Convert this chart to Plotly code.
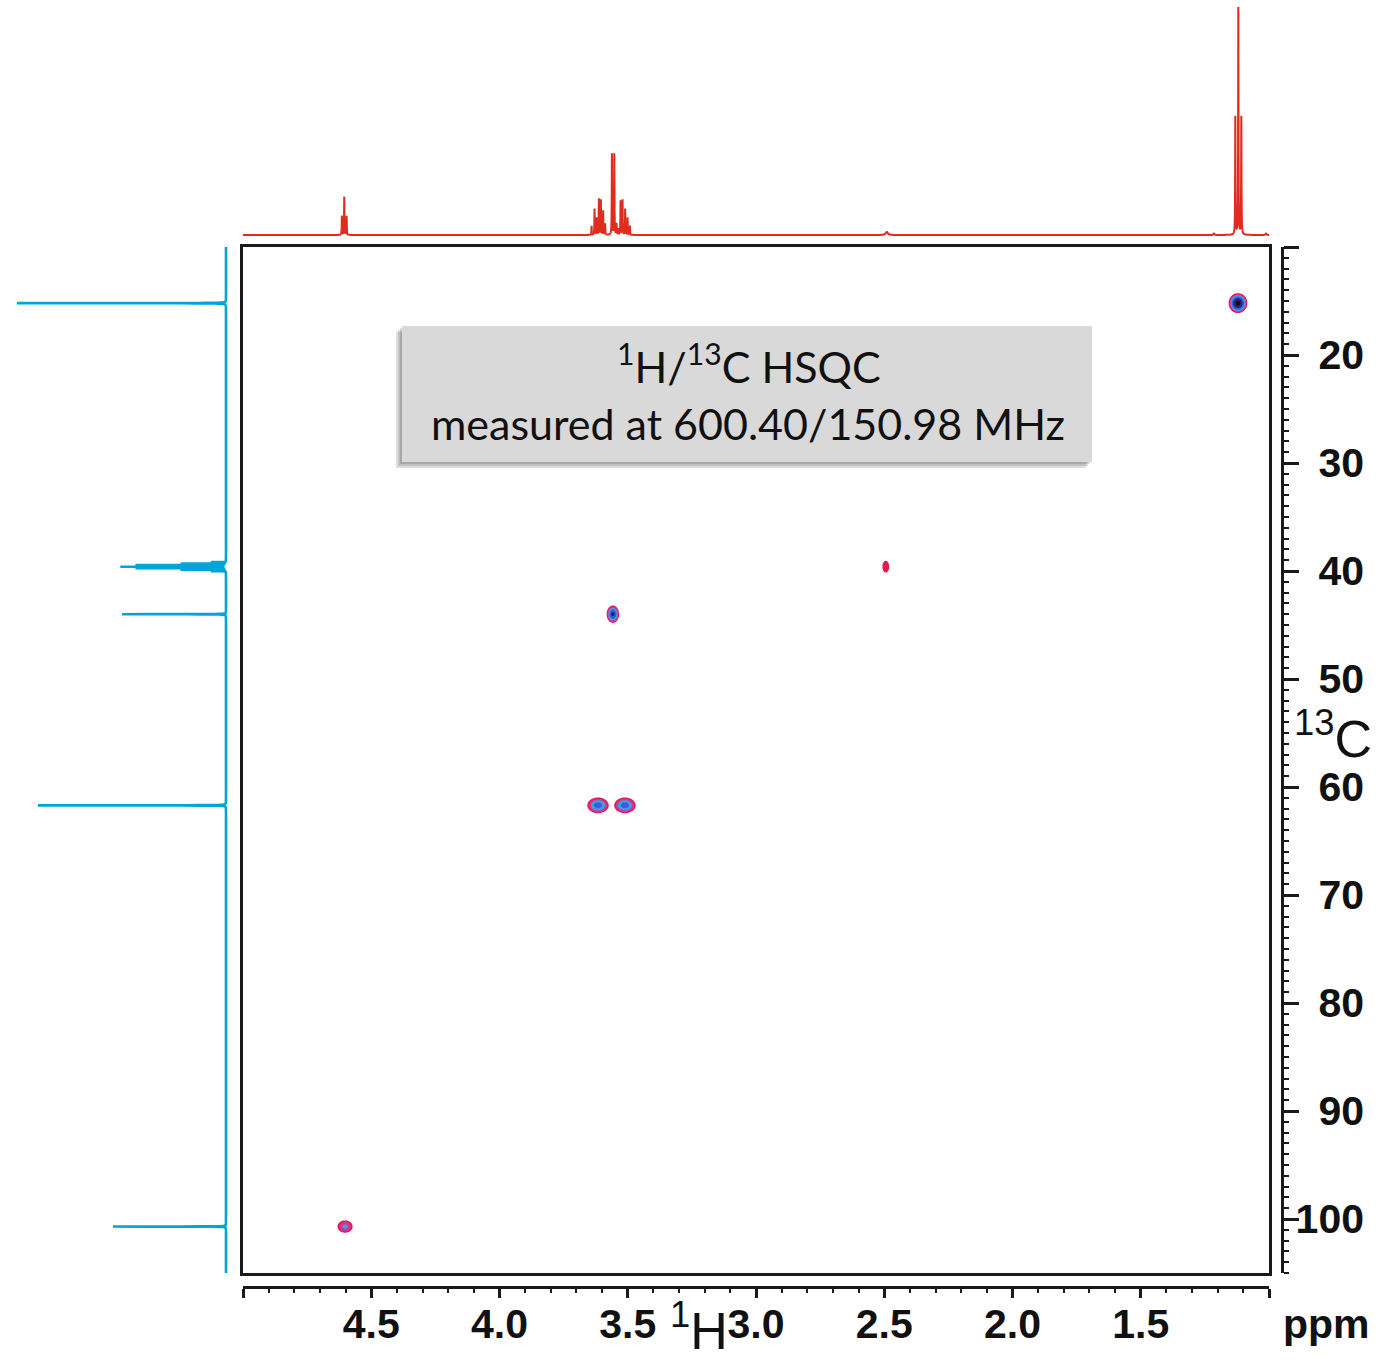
import numpy as np
import plotly.graph_objects as go

W, H = 1386, 1361

# ---- 1H projection: line positions (ppm) and heights (a.u.) ----
h1_shift = [4.6144, 4.6052, 4.5960,
            3.6411, 3.6294, 3.6216, 3.6126, 3.6048, 3.5959, 3.5881,
            3.5617, 3.5525,
            3.5437, 3.5374, 3.5281, 3.5203, 3.5101, 3.5008, 3.4918,
            2.4900,
            1.2150, 1.1313, 1.1196, 1.1079, 1.0120]
h1_height = [19, 38, 19,
             9, 26, 17, 36, 35, 24, 11,
             81, 81,
             11, 6, 34, 35, 26, 17, 9,
             3,
             1.5, 118, 227, 118, 1.5]
h1_hwhm = [0.0008] * 19 + [0.005] + [0.002, 0.0008, 0.0008, 0.0008, 0.002]

# ---- 13C projection: line positions (ppm) and heights (a.u.) ----
c13_shift = [15.2,
             39.183, 39.322, 39.461, 39.600, 39.739, 39.878, 40.017,
             44.0, 61.7, 100.7]
c13_height = [209, 15, 45, 90, 105, 90, 45, 15, 104, 188, 113]
c13_hwhm = 0.008

# ---- HSQC cross peaks ----
cross_h = [1.121, 2.494, 3.558, 3.616, 3.511, 4.602]
cross_c = [15.2, 39.6, 44.0, 61.7, 61.7, 100.7]
cross_level = [5.3, 0.8, 4.3, 3.5, 3.5, 2.3]      # log2(intensity / lowest contour)
cross_wh = [0.0135, 0.0125, 0.0100, 0.0190, 0.0190, 0.0165]   # sigma along 1H (ppm)
cross_wc = [0.34, 0.52, 0.33, 0.33, 0.33, 0.32]                # sigma along 13C (ppm)

contour_colors = ['rgba(255,255,255,0)', '#e8194f', '#d1359c', '#3aa0e2',
                  '#3d5bd6', '#23237a', '#101010']

x_tickvals = [5.0, 4.5, 4.0, 3.5, 3.0, 2.5, 2.0, 1.5, 1.0]
x_ticktext = ['', '4.5', '4.0', '3.5', '3.0', '2.5', '2.0', '1.5', '']
y_tickvals = [10, 20, 30, 40, 50, 60, 70, 80, 90, 100]
y_label_vals = [20, 30, 40, 50, 60, 70, 80, 90, 100]
y_label_text = ['20', '30', '40', '50', '60', '70', '80', '90', '100']


def lorentz_sum(grid, centers, heights, hwhm):
    g = grid[:, None]
    c = np.asarray(centers)[None, :]
    w = np.broadcast_to(np.asarray(hwhm, dtype=float), c.shape[1:])[None, :]
    return (np.asarray(heights)[None, :] / (1.0 + ((g - c) / w) ** 2)).sum(axis=1)


h_grid = np.unique(np.concatenate([np.linspace(1.0, 5.0, 16001), h1_shift]))
h_int = lorentz_sum(h_grid, h1_shift, h1_height, h1_hwhm)

c_grid = np.unique(np.concatenate([np.linspace(10.0, 105.0, 19001), c13_shift]))
c_int = lorentz_sum(c_grid, c13_shift, c13_height, c13_hwhm)

fig = go.Figure()

# cross peaks as filled contour levels (log2 spaced), main 2D frame
n = len(contour_colors)
cscale = [[i / (n - 1), c] for i, c in enumerate(contour_colors)]
for xh, yc, lv, sx, sy in zip(cross_h, cross_c, cross_level, cross_wh, cross_wc):
    gx = np.linspace(xh - 4.5 * sx, xh + 4.5 * sx, 81)
    gy = np.linspace(yc - 4.5 * sy, yc + 4.5 * sy, 81)
    dx = (gx[None, :] - xh) / sx
    dy = (gy[:, None] - yc) / sy
    z = lv - (dx ** 2 + dy ** 2) / (2 * np.log(2))
    fig.add_trace(go.Contour(
        x=gx, y=gy, z=z, xaxis='x', yaxis='y',
        autocontour=False,
        contours=dict(start=0, end=5, size=1, coloring='fill', showlines=False),
        colorscale=cscale, showscale=False, line=dict(width=0),
        hoverinfo='skip'))

# hover targets at the cross-peak centres (13C label scale)
fig.add_trace(go.Scatter(x=cross_h, y=cross_c, mode='markers', xaxis='x', yaxis='y3',
                         marker=dict(size=14, opacity=0),
                         hovertemplate='1H %{x:.2f} ppm<br>13C %{y:.1f} ppm<extra></extra>'))

# 1H spectrum on top (uses the detached 1H scale)
fig.add_trace(go.Scatter(x=h_grid, y=h_int, mode='lines', xaxis='x2', yaxis='y4',
                         line=dict(color='#e02b1f', width=2, simplify=False), hoverinfo='skip'))
# 13C spectrum on the left (uses the detached 13C scale)
fig.add_trace(go.Scatter(x=c_int, y=c_grid, mode='lines', xaxis='x3', yaxis='y2',
                         line=dict(color='#00a5d8', width=2.6, simplify=False), hoverinfo='skip'))

xdom = [243 / W, 1269 / W]
ydom = [1 - 1273 / H, 1 - 247 / H]
tick_font = dict(family='Liberation Sans, Arial, sans-serif', size=41, color='#111111', weight='bold')
axis_col = '#1a1a1a'

fig.update_layout(
    width=W, height=H, margin=dict(l=0, r=0, t=0, b=0),
    paper_bgcolor='white', plot_bgcolor='rgba(0,0,0,0)', showlegend=False,
    xaxis=dict(domain=xdom, range=[5.0, 1.0], anchor='y', showgrid=False, zeroline=False,
               showticklabels=False, ticks='', showline=True, mirror=True,
               linecolor=axis_col, linewidth=3),
    yaxis=dict(domain=ydom, range=[105, 10], anchor='x', showgrid=False, zeroline=False,
               showticklabels=False, ticks='', showline=True, mirror=True,
               linecolor=axis_col, linewidth=3),
    # detached 1H scale
    xaxis2=dict(domain=xdom, anchor='free', position=1 - 1287 / H, range=[5.0, 1.0],
                showgrid=False, zeroline=False, showline=True, linecolor=axis_col, linewidth=2.5,
                ticks='outside', ticklen=9, tickwidth=2.5, tickcolor=axis_col,
                tickvals=x_tickvals, ticktext=x_ticktext, tickfont=tick_font,
                minor=dict(dtick=0.1, tick0=0, ticks='outside', ticklen=4, tickwidth=2,
                           tickcolor=axis_col, showgrid=False)),
    # detached 13C scale (ticks)
    yaxis2=dict(domain=ydom, anchor='free', side='right', position=1282 / W, range=[105, 10],
                showgrid=False, zeroline=False, showline=True, linecolor=axis_col, linewidth=2.5,
                ticks='outside', ticklen=15, tickwidth=2.5, tickcolor=axis_col,
                tickvals=y_tickvals, showticklabels=False,
                minor=dict(dtick=1, tick0=0, ticks='outside', ticklen=5, tickwidth=2,
                           tickcolor=axis_col, showgrid=False)),
    # 13C scale labels (right aligned)
    yaxis3=dict(domain=ydom, anchor='free', side='left', position=1364 / W, range=[105, 10],
                showgrid=False, zeroline=False, showline=False, ticks='',
                tickvals=y_label_vals, ticktext=y_label_text, tickfont=tick_font),
    # projection intensity axes
    xaxis3=dict(domain=[0, 232 / W], range=[226, -6], anchor='free', position=0, visible=False),
    yaxis4=dict(domain=[1 - 240 / H, 1], range=[-5, 235], anchor='free', position=0, visible=False),
)
try:
    fig.update_layout(xaxis2_ticklabelstandoff=-9)
except ValueError:
    pass

# info box with drop shadow
shapes = []
for d in (6, 4, 2):
    shapes.append(dict(type='rect', xref='paper', yref='paper',
                       x0=(402 - d) / W, x1=(1092 - d) / W,
                       y0=1 - (462 + d) / H, y1=1 - (326 + d) / H,
                       fillcolor='rgba(0,0,0,0.13)', line=dict(width=0)))
shapes.append(dict(type='rect', xref='paper', yref='paper',
                   x0=402 / W, x1=1092 / W, y0=1 - 462 / H, y1=1 - 326 / H,
                   fillcolor='#d9d9d9', line=dict(width=0)))
fig.update_layout(shapes=shapes)

box_font = dict(family='Lato, Open Sans, sans-serif', size=43, color='#111111')
title_font = dict(family='Liberation Sans, Arial, sans-serif', size=52, color='#111111')
annotations = [
    dict(text='<sup>1</sup>H/<sup>13</sup>C HSQC', x=749 / W, y=1 - 363 / H, font=box_font,
         yanchor='middle'),
    dict(text='measured at 600.40/150.98 MHz', x=748 / W, y=1 - 424 / H, font=box_font,
         yanchor='middle'),
    dict(text='<sup>1</sup>H', x=699 / W, y=0, font=title_font, yanchor='bottom', borderpad=0),
    dict(text='<sup>13</sup>C', x=1333 / W, y=1 - 735 / H, font=title_font, yanchor='middle',
         borderpad=0),
    dict(text='ppm', x=1326 / W, y=1 - 1324 / H, font=tick_font, yanchor='middle'),
]
for a in annotations:
    a.update(xref='paper', yref='paper', showarrow=False, xanchor='center')
fig.update_layout(annotations=annotations)

fig.write_html('out.html')
